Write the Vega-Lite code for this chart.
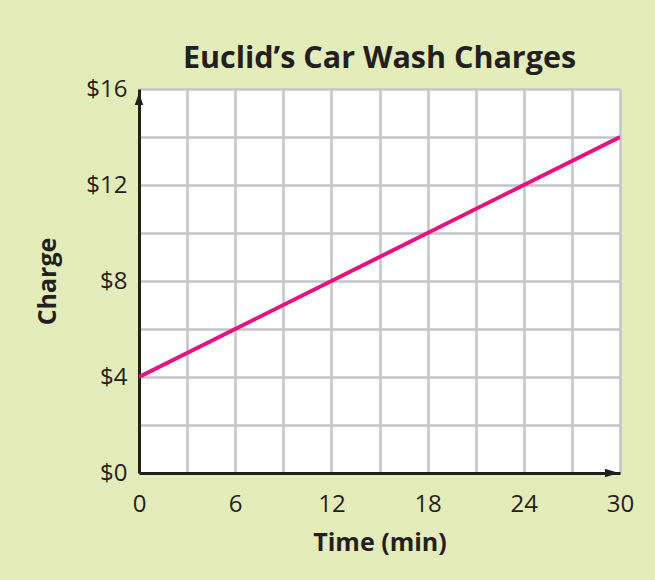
{
  "$schema": "https://vega.github.io/schema/vega-lite/v6.json",
  "width": 481,
  "height": 384,
  "autosize": {"type": "none"},
  "padding": {"left": 139, "top": 89, "right": 35, "bottom": 107},
  "background": "#e4ecba",
  "title": {
    "text": "Euclid’s Car Wash Charges",
    "font": "Open Sans",
    "fontSize": 30.5,
    "fontWeight": "bold",
    "color": "#231f20",
    "anchor": "middle",
    "frame": "group",
    "baseline": "alphabetic",
    "offset": 20,
    "dy": 41
  },
  "config": {
    "view": {"fill": "white", "stroke": null},
    "axis": {
      "labelFont": "Open Sans",
      "labelFontSize": 24,
      "labelColor": "#231f20",
      "titleFont": "Open Sans",
      "titleFontSize": 25,
      "titleFontWeight": "bold",
      "titleColor": "#231f20",
      "gridColor": "#c4c4c8",
      "gridWidth": 2.5,
      "gridOpacity": 1,
      "domainColor": "#231f20",
      "domainWidth": 3,
      "ticks": false,
      "tickSize": 0
    }
  },
  "layer": [
    {
      "data": {
        "values": [
          {"time": 0, "charge": 4},
          {"time": 6, "charge": 6},
          {"time": 12, "charge": 8},
          {"time": 18, "charge": 10},
          {"time": 24, "charge": 12},
          {"time": 30, "charge": 14}
        ]
      },
      "mark": {"type": "line", "color": "#e6127f", "strokeWidth": 4, "clip": true},
      "encoding": {
        "x": {
          "field": "time",
          "type": "quantitative",
          "scale": {"domain": [0, 30], "nice": false},
          "axis": {
            "values": [0, 3, 6, 9, 12, 15, 18, 21, 24, 27, 30],
            "labelExpr": "datum.value % 6 == 0 ? datum.value : ''",
            "labelPadding": 19,
            "labelFlush": false,
            "labelOverlap": false,
            "title": "Time (min)",
            "titlePadding": 14
          }
        },
        "y": {
          "field": "charge",
          "type": "quantitative",
          "scale": {"domain": [0, 16], "nice": false},
          "axis": {
            "values": [0, 2, 4, 6, 8, 10, 12, 14, 16],
            "labelExpr": "datum.value % 4 == 0 ? '$' + datum.value : ''",
            "labelPadding": 12,
            "labelFlush": false,
            "labelOverlap": false,
            "title": "Charge",
            "titlePadding": 25
          }
        }
      }
    },
    {
      "data": {"values": [{"time": 0, "charge": 16}]},
      "mark": {"type": "point", "shape": "M0,-1L-0.7,1L0.7,1Z", "size": 150, "filled": true, "color": "#231f20", "opacity": 1, "yOffset": 10},
      "encoding": {
        "x": {"field": "time", "type": "quantitative"},
        "y": {"field": "charge", "type": "quantitative"}
      }
    },
    {
      "data": {"values": [{"time": 30, "charge": 0}]},
      "mark": {"type": "point", "shape": "M1,0L-1,-0.6L-1,0.6Z", "size": 200, "filled": true, "color": "#231f20", "opacity": 1, "xOffset": -8},
      "encoding": {
        "x": {"field": "time", "type": "quantitative"},
        "y": {"field": "charge", "type": "quantitative"}
      }
    }
  ]
}
